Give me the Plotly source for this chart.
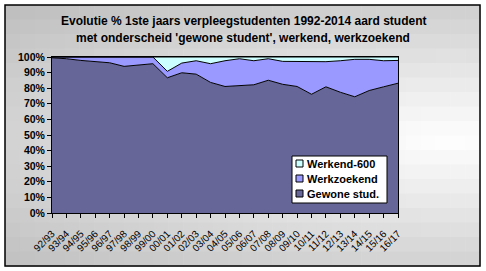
import plotly.graph_objects as go
import math

# ---- data ----
categories = ["92/93", "93/94", "94/95", "95/96", "96/97", "97/98", "98/99", "99/00",
              "00/01", "01/02", "02/03", "03/04", "04/05", "05/06", "06/07", "07/08",
              "08/09", "09/10", "10/11", "11/12", "12/13", "13/14", "14/15", "15/16", "16/17"]
gewone_stud = [99.5, 98.9, 97.8, 97.2, 96.3, 94.0, 94.8, 95.7, 86.7, 89.9, 89.0, 83.7, 81.1,
               81.5, 82.2, 85.1, 82.5, 81.1, 76.1, 80.9, 77.4, 74.5, 78.5, 80.9, 83.2]
werkzoekend = [0.5, 1.1, 2.2, 2.8, 3.7, 6.0, 5.2, 4.3, 4.1, 6.2, 8.6, 12.0, 16.5,
               17.4, 15.4, 13.8, 14.7, 16.1, 20.9, 16.1, 20.2, 24.0, 20.0, 16.7, 14.6]
werkend_600 = [0, 0, 0, 0, 0, 0, 0, 0, 9.2, 3.9, 2.4, 4.3, 2.4,
               1.1, 2.4, 1.1, 2.8, 2.8, 3.0, 3.0, 2.4, 1.5, 1.5, 2.4, 2.2]
series_names = ["Gewone stud.", "Werkzoekend", "Werkend-600"]
y_ticks = [0, 10, 20, 30, 40, 50, 60, 70, 80, 90, 100]
y_ticklabels = [f"{v}%" for v in y_ticks]

W, H = 486, 271
L, R, T, B = 52, 398, 57, 213  # plot area in pixels

colors = ["#666699", "#9999FF", "#CCFFFF"]
xs = list(range(len(categories)))
fig = go.Figure()
for name, vals, col in zip(series_names, [gewone_stud, werkzoekend, werkend_600], colors):
    fig.add_trace(go.Scatter(
        x=xs, y=vals, name=name, mode="lines", stackgroup="one", groupnorm="percent",
        fillcolor=col, line=dict(color="black", width=1, shape="linear"),
        hoverinfo="skip", showlegend=False))

def px2paper_x(px):
    return (px - L) / (R - L)

def px2paper_y(py):
    return (B - py) / (B - T)

def rect_px(x0, y0, x1, y1, **kw):
    return dict(type="rect", xref="paper", yref="paper",
                x0=px2paper_x(x0), x1=px2paper_x(x1),
                y0=px2paper_y(y1), y1=px2paper_y(y0), **kw)

# gradient background inside the frame (style only)
shapes = []
fx0, fy0, fx1, fy1 = 5, 5, 480, 266
nc, nr = 32, 18
cw = (fx1 - fx0) / nc
ch = (fy1 - fy0) / nr
for i in range(nc):
    for j in range(nr):
        cx = fx0 + (i + 0.5) * cw
        cy = fy0 + (j + 0.5) * ch
        d = math.sqrt(((cx - 450) / 480) ** 2 + ((cy - 140) / 135) ** 2)
        g = int(max(188, min(255, 255 - 48 * d)))
        shapes.append(rect_px(fx0 + i * cw, fy0 + j * ch,
                              fx0 + (i + 1) * cw + 0.6, fy0 + (j + 1) * ch + 0.6,
                              layer="below", line=dict(width=0),
                              fillcolor=f"rgb({g},{g},{g})"))
shapes.append(rect_px(fx0, fy0, fx1, fy1, layer="above",
                      line=dict(color="black", width=1.5), fillcolor="rgba(0,0,0,0)"))

font = "Liberation Sans, Arial, sans-serif"

# manual legend (box, swatches, labels)
lg_x0, lg_y0, lg_x1, lg_y1 = 292, 156, 387, 203
shapes.append(rect_px(lg_x0, lg_y0, lg_x1, lg_y1, layer="above",
                      line=dict(color="black", width=1), fillcolor="white"))
annotations = []
legend_rows = list(zip(series_names, colors))[::-1]
for k, (name, col) in enumerate(legend_rows):
    cy = 163.5 + 15 * k
    shapes.append(rect_px(296, cy - 3.5, 303, cy + 3.5, layer="above",
                          line=dict(color="black", width=1), fillcolor=col))
    annotations.append(dict(text=f"<b>{name}</b>", xref="paper", yref="paper",
                            x=px2paper_x(305), y=px2paper_y(cy), xanchor="left",
                            yanchor="middle", showarrow=False,
                            font=dict(family=font, size=11, color="black")))

annotations += [
    dict(text="<b>Evolutie % 1ste jaars verpleegstudenten 1992-2014 aard student</b>",
         xref="paper", yref="paper", x=px2paper_x(243), y=px2paper_y(21),
         xanchor="center", yanchor="middle", showarrow=False,
         font=dict(family=font, size=12, color="black")),
    dict(text="<b>met onderscheid 'gewone student', werkend, werkzoekend</b>",
         xref="paper", yref="paper", x=px2paper_x(243), y=px2paper_y(38),
         xanchor="center", yanchor="middle", showarrow=False,
         font=dict(family=font, size=12, color="black")),
]

fig.update_layout(
    width=W, height=H,
    margin=dict(l=L, r=W - R, t=T, b=H - B, pad=0),
    paper_bgcolor="white", plot_bgcolor="white",
    showlegend=False,
    shapes=shapes,
    annotations=annotations,
    font=dict(family=font, size=10, color="black"),
)
fig.update_xaxes(
    range=[0, len(categories) - 1], tickmode="array", tickvals=xs, ticktext=categories,
    tickangle=-45, ticks="outside", ticklen=4, tickcolor="black", tickwidth=1,
    ticklabelstandoff=6,
    showline=True, linecolor="black", linewidth=1, mirror=True, showgrid=False,
    zeroline=False, tickfont=dict(family=font, size=10, color="black"),
)
fig.update_yaxes(
    range=[0, 100], tickmode="array", tickvals=y_ticks, ticktext=y_ticklabels,
    ticks="outside", ticklen=4, tickcolor="black", tickwidth=1,
    showline=True, linecolor="black", linewidth=1, mirror=True, showgrid=False,
    zeroline=False, tickfont=dict(family=font, size=10.5, color="black", weight="bold"),
)
fig.write_html("out.html")
